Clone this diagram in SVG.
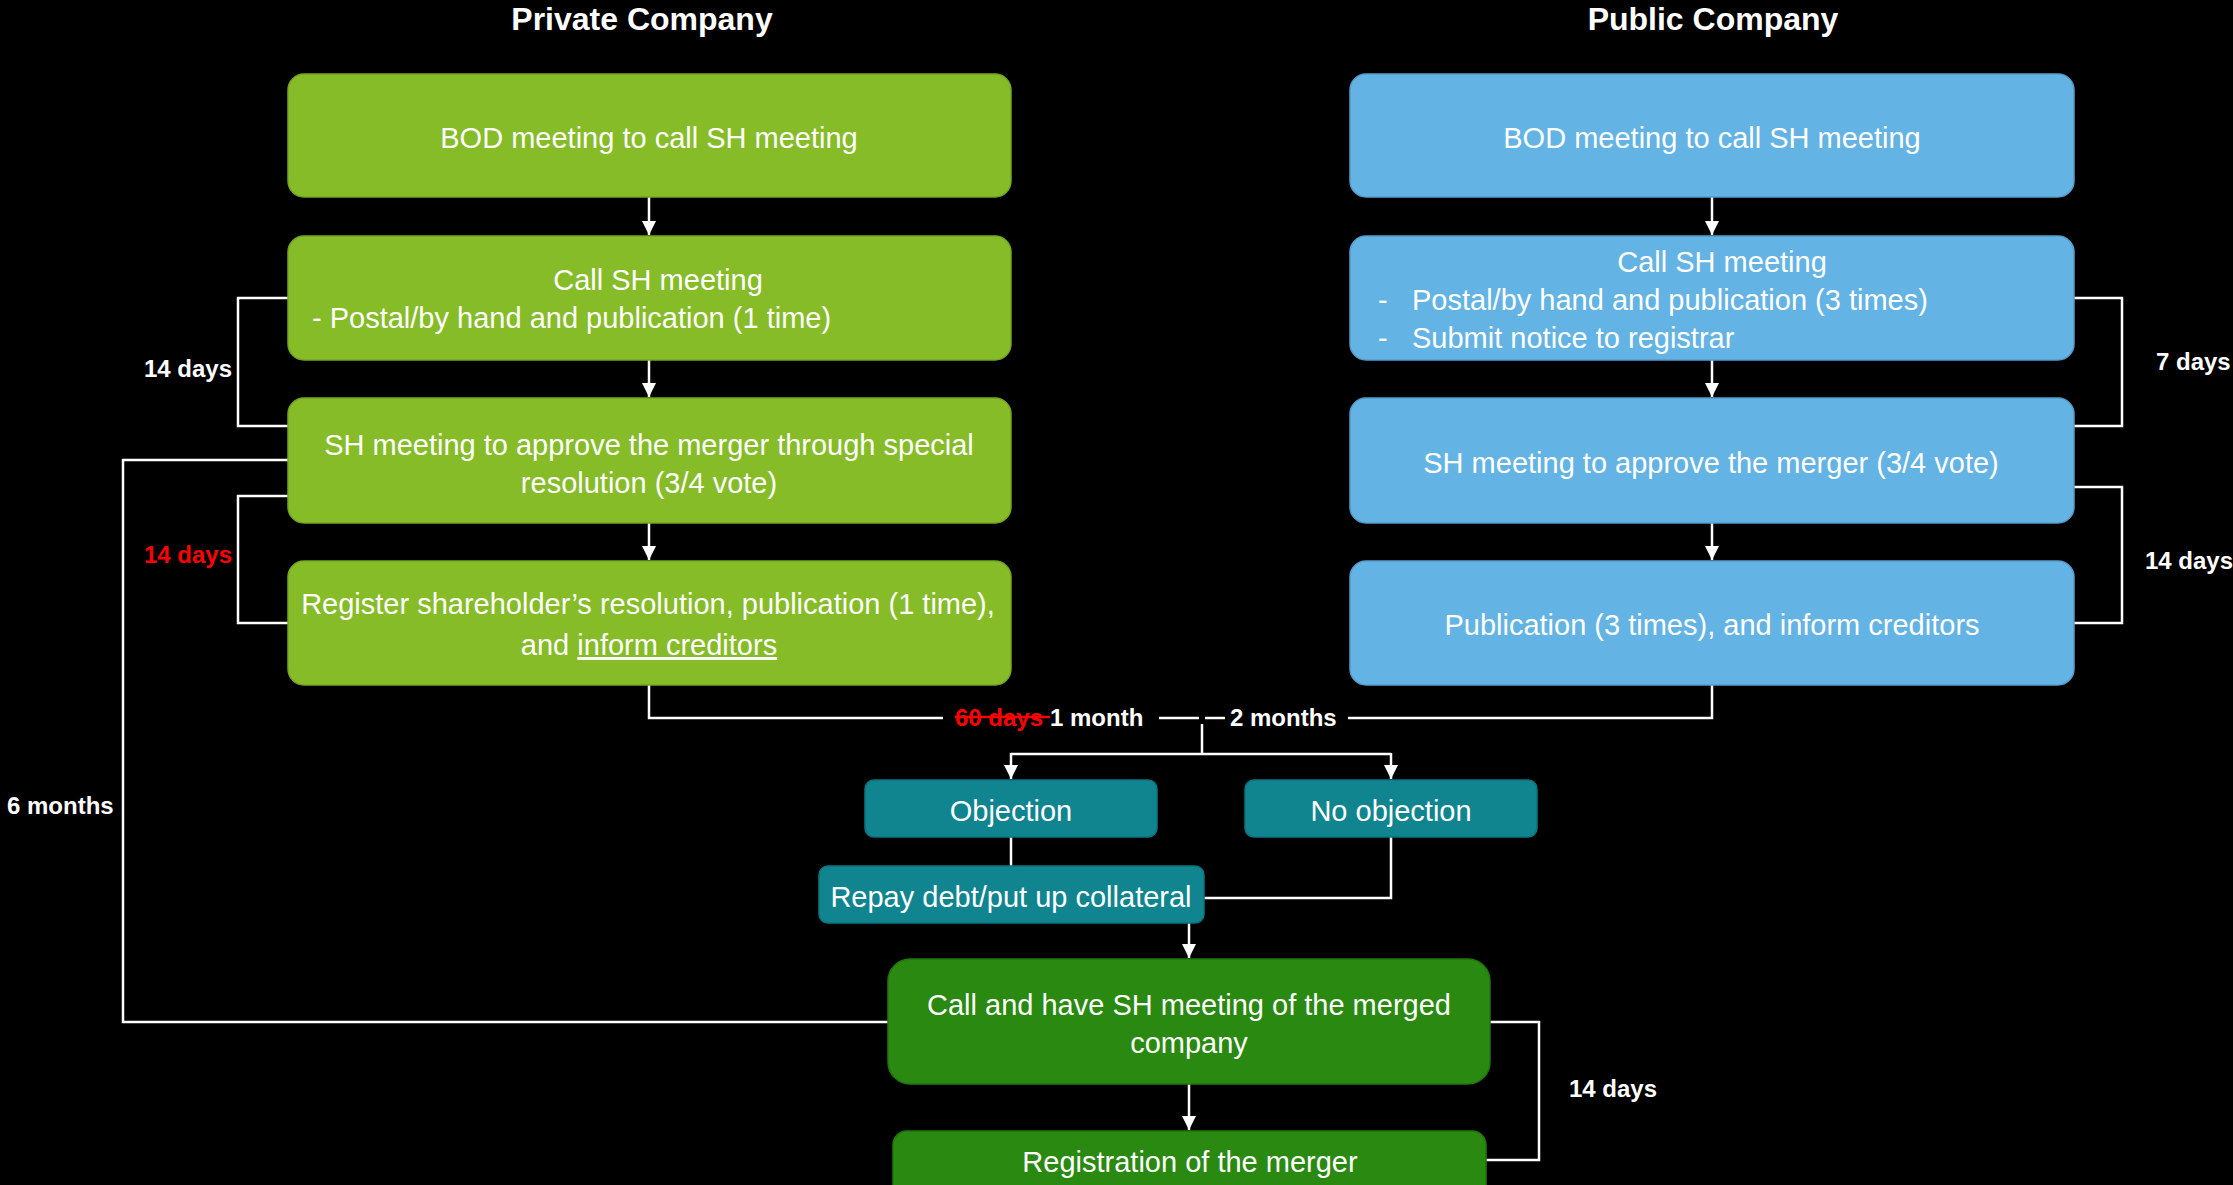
<svg xmlns="http://www.w3.org/2000/svg" width="2233" height="1185" viewBox="0 0 2233 1185">
<defs>
<style>
.bg{fill:#000}
.pv{fill:#86BC27;stroke:#76A620;stroke-width:1.5}
.pb{fill:#63B3E4;stroke:#559DCB;stroke-width:1.5}
.tl{fill:#108590;stroke:#0C7480;stroke-width:1.5}
.dg{fill:#298910;stroke:#22770C;stroke-width:1.5}
.t{font-family:"Liberation Sans",Arial,sans-serif;font-size:29px;fill:#fff}
.c{text-anchor:middle}
.h{font-family:"Liberation Sans",Arial,sans-serif;font-size:32px;font-weight:bold;fill:#fff;text-anchor:middle}
.l{font-family:"Liberation Sans",Arial,sans-serif;font-size:24px;font-weight:bold;fill:#fff}
.red{fill:#FF0000}
.ln{fill:none;stroke:#fff;stroke-width:2.5}
.ar{fill:none;stroke:#fff;stroke-width:2.5;marker-end:url(#ah)}
</style>
<marker id="ah" viewBox="0 0 10 10" refX="10" refY="5" markerWidth="14" markerHeight="14" markerUnits="userSpaceOnUse" orient="auto">
<path d="M0,0 L10,5 L0,10 z" fill="#fff"/>
</marker>
</defs>
<rect class="bg" x="0" y="0" width="2233" height="1185"/>

<g id="titles">
<text class="h" x="642" y="30">Private Company</text>
<text class="h" x="1713" y="30">Public Company</text>
</g>

<g id="connectors">
<!-- private vertical arrows -->
<path class="ar" d="M649,197 V235"/>
<path class="ar" d="M649,360 V397"/>
<path class="ar" d="M649,523 V560"/>
<!-- public vertical arrows -->
<path class="ar" d="M1712,197 V235"/>
<path class="ar" d="M1712,360 V397"/>
<path class="ar" d="M1712,523 V560"/>
<!-- private brackets -->
<path class="ln" d="M288,298 H238 V426 H288"/>
<path class="ln" d="M288,496 H238 V623 H288"/>
<path class="ln" d="M288,460 H123 V1022 H888"/>
<!-- public brackets -->
<path class="ln" d="M2074,298 H2122 V426 H2074"/>
<path class="ln" d="M2074,487 H2122 V623 H2074"/>
<!-- merge line -->
<path class="ln" d="M649,685 V718 H943"/>
<path class="ln" d="M1159,718 H1199"/>
<path class="ln" d="M1205,718 H1225"/>
<path class="ln" d="M1348,718 H1712 V685"/>
<path class="ln" d="M1202,724 V754"/>
<path class="ln" d="M1011,754 H1391"/>
<path class="ar" d="M1011,753 V779"/>
<path class="ar" d="M1391,753 V779"/>
<!-- objection branches -->
<path class="ln" d="M1011,837 V866"/>
<path class="ln" d="M1391,837 V898 H1204"/>
<path class="ar" d="M1189,923 V958"/>
<path class="ar" d="M1189,1084 V1130"/>
<path class="ln" d="M1490,1022 H1539 V1160 H1486"/>
</g>

<g id="labels">
<text class="l" x="232" y="377" text-anchor="end">14 days</text>
<text class="l red" x="232" y="563" text-anchor="end">14 days</text>
<text class="l" x="7" y="814">6 months</text>
<text class="l" x="2156" y="370">7 days</text>
<text class="l" x="2145" y="569">14 days</text>
<text class="l" x="1569" y="1097">14 days</text>
<text class="l red" x="955" y="726">60 days</text>
<line x1="955" y1="717" x2="1050" y2="717" stroke="#FF0000" stroke-width="2.5"/>
<text class="l" x="1050" y="726">1 month</text>
<text class="l" x="1230" y="726">2 months</text>
</g>

<g id="priv-bod">
<rect class="pv" x="288" y="74" width="723" height="123" rx="16"/>
<text class="t c" x="649" y="148">BOD meeting to call SH meeting</text>
</g>
<g id="priv-call">
<rect class="pv" x="288" y="236" width="723" height="124" rx="16"/>
<text class="t c" x="658" y="290">Call SH meeting</text>
<text class="t" x="312" y="328">- Postal/by hand and publication (1 time)</text>
</g>
<g id="priv-shm">
<rect class="pv" x="288" y="398" width="723" height="125" rx="16"/>
<text class="t c" x="649" y="455">SH meeting to approve the merger through special</text>
<text class="t c" x="649" y="493">resolution (3/4 vote)</text>
</g>
<g id="priv-reg">
<rect class="pv" x="288" y="561" width="723" height="124" rx="16"/>
<text class="t c" x="648" y="614">Register shareholder’s resolution, publication (1 time),</text>
<text class="t c" x="649" y="655">and <tspan text-decoration="underline">inform creditors</tspan></text>
</g>

<g id="pub-bod">
<rect class="pb" x="1350" y="74" width="724" height="123" rx="16"/>
<text class="t c" x="1712" y="148">BOD meeting to call SH meeting</text>
</g>
<g id="pub-call">
<rect class="pb" x="1350" y="236" width="724" height="124" rx="16"/>
<text class="t c" x="1722" y="272">Call SH meeting</text>
<text class="t" x="1378" y="310">-</text>
<text class="t" x="1412" y="310">Postal/by hand and publication (3 times)</text>
<text class="t" x="1378" y="348">-</text>
<text class="t" x="1412" y="348">Submit notice to registrar</text>
</g>
<g id="pub-shm">
<rect class="pb" x="1350" y="398" width="724" height="125" rx="16"/>
<text class="t c" x="1711" y="473">SH meeting to approve the merger (3/4 vote)</text>
</g>
<g id="pub-pub">
<rect class="pb" x="1350" y="561" width="724" height="124" rx="16"/>
<text class="t c" x="1712" y="635">Publication (3 times), and inform creditors</text>
</g>

<g id="objection">
<rect class="tl" x="865" y="780" width="292" height="57" rx="9"/>
<text class="t c" x="1011" y="821">Objection</text>
</g>
<g id="no-objection">
<rect class="tl" x="1245" y="780" width="292" height="57" rx="9"/>
<text class="t c" x="1391" y="821">No objection</text>
</g>
<g id="repay">
<rect class="tl" x="819" y="866" width="385" height="57" rx="9"/>
<text class="t c" x="1011" y="907">Repay debt/put up collateral</text>
</g>
<g id="merged-sh">
<rect class="dg" x="888" y="959" width="602" height="125" rx="22"/>
<text class="t c" x="1189" y="1015">Call and have SH meeting of the merged</text>
<text class="t c" x="1189" y="1053">company</text>
</g>
<g id="registration">
<rect class="dg" x="893" y="1131" width="593" height="80" rx="14"/>
<text class="t c" x="1190" y="1172">Registration of the merger</text>
</g>
</svg>
